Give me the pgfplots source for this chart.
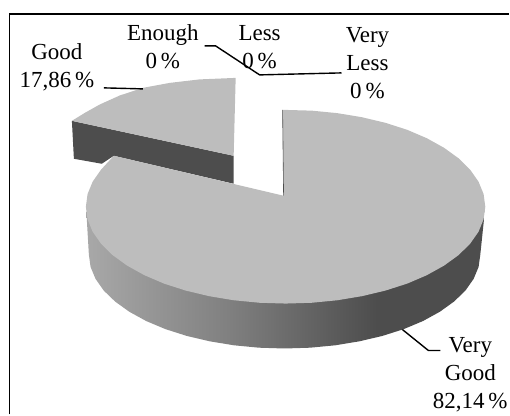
\documentclass[border=0pt]{standalone}
\usepackage{pgfplots}
\pgfplotsset{compat=1.18}
\usepackage{fontspec}
\setmainfont{Liberation Serif}
\definecolor{pietop}{HTML}{BDBDBD}
\definecolor{piedark}{HTML}{4D4D4D}
% side wall: light on the left, flat dark from about x=377 on (bbox sits on 25bp..75bp)
\pgfdeclarehorizontalshading{sidewall}{100bp}{
  color(0bp)=(black!34); color(25bp)=(black!34); color(43bp)=(black!50);
  color(55bp)=(black!63); color(61.5bp)=(piedark); color(100bp)=(piedark)}
\tikzset{lab/.style={font=\fontsize{23}{28}\selectfont, align=center, inner sep=0pt}}
\begin{document}
\begin{tikzpicture}
\begin{axis}[
    scale only axis,
    width=510pt, height=415pt,
    xmin=0, xmax=510,
    ymin=0, ymax=415,
    y dir=reverse,
    axis lines=none,
    clip=false,
]
% keeps the page at the full image size
\addplot[draw=none] coordinates {(0,0)(510,415)};
% frame, only top and left are in the crop
\addplot[black, line width=1.5pt] coordinates {(9.5,415)(9.5,14)(510,14)};

% detached Good slice, side
\addplot[draw=none, fill=piedark] coordinates {(72,121)(234,156)(234,184)(114,156)(102,164)(74,159)} -- cycle;
% detached Good slice, top
\addplot[draw=none, fill=pietop] coordinates {
    (72,121)(85,113)(100,104.6)(120,95.6)(143,88)(170,83)(200,79.5)(236,78)(234,156)} -- cycle;

% Very Good wall
\addplot[draw=none, shade, shading=sidewall] coordinates {
    (485.5,212)(481,255)(479.3,267.3)(474.3,279.3)(466.1,291)(454.7,302)(440.5,312.2)(423.6,321.5)
    (404.3,329.6)(383,336.4)(360,341.8)(335.7,345.8)(310.6,348.2)(285,349)(259.4,348.2)(234.3,345.8)
    (210,341.8)(187,336.4)(165.7,329.6)(146.4,321.5)(129.5,312.2)(115.3,302)(103.9,291)(95.7,279.3)
    (90.7,267.3)(89,255)(86.5,212)} -- cycle;
% Very Good top
\addplot[draw=none, fill=pietop] coordinates {
    (284,196)(283,110)(312.1,110.8)(337.8,113.3)(362.5,117.4)(386,123)(407.8,130)(427.4,138.4)
    (444.7,148)(459.2,158.5)(470.8,169.9)(479.2,181.9)(484.3,194.3)(486,207)(484.3,219.7)(479.2,232.1)
    (470.8,244.1)(459.2,255.5)(444.7,266)(427.4,275.6)(407.8,284)(386,291)(362.5,296.6)(337.8,300.7)
    (312.1,303.2)(286,304)(259.9,303.2)(234.2,300.7)(209.5,296.6)(186,291)(164.2,284)(144.6,275.6)
    (127.3,266)(112.8,255.5)(101.2,244.1)(92.8,232.1)(87.7,219.7)(86,207)(87.7,194.3)(92.8,181.9)
    (101.2,169.9)(114,156)} -- cycle;
\addplot[piedark, line width=0.6pt] coordinates {(283,110)(284,196)};

% leader lines
\addplot[black, line width=1.4pt] coordinates {(104,88)(143,89)};
\addplot[black, line width=1.4pt] coordinates {(205,46)(216,46)(260,75)(342,73)};
\addplot[black, line width=1.4pt] coordinates {(403,330)(429,351)(441,351)};

% labels
\node[lab] at (axis cs:57,67) {Good\\17,86\,\%};
\node[lab] at (axis cs:163,47) {Enough\\0\,\%};
\node[lab] at (axis cs:260,47) {Less\\0\,\%};
\node[lab] at (axis cs:368,63) {Very\\Less\\0\,\%};
\node[lab] at (axis cs:471,375) {Very\\Good\\82,14\,\%};
\end{axis}
\end{tikzpicture}
\end{document}
